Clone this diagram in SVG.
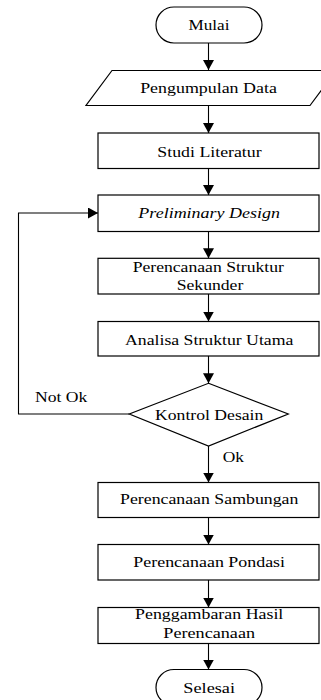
<svg xmlns="http://www.w3.org/2000/svg" width="321" height="700" viewBox="0 0 321 700">
<style>
.s{fill:#fff;stroke:#000;stroke-width:1.2}
.c{fill:none;stroke:#000;stroke-width:1.1}
text{font-family:'Liberation Serif','Times New Roman',serif;font-size:15px;fill:#000}
.m{text-anchor:middle}
</style>
<defs>
<marker id="ah" viewBox="0 0 10 11" markerWidth="10" markerHeight="11" refX="10" refY="5.5" orient="auto" markerUnits="userSpaceOnUse">
<path d="M0,0 L10,5.5 L0,11 z" fill="#000"/>
</marker>
</defs>
<rect width="321" height="700" fill="#fff"/>
<g id="connectors">
<line class="c" x1="208.5" y1="43" x2="208.5" y2="70" marker-end="url(#ah)"/>
<line class="c" x1="208.5" y1="105.5" x2="208.5" y2="133" marker-end="url(#ah)"/>
<line class="c" x1="208.5" y1="168.5" x2="208.5" y2="195" marker-end="url(#ah)"/>
<line class="c" x1="208.5" y1="231.5" x2="208.5" y2="258.3" marker-end="url(#ah)"/>
<line class="c" x1="208.5" y1="294" x2="208.5" y2="321.5" marker-end="url(#ah)"/>
<line class="c" x1="208.5" y1="356" x2="208.5" y2="383.3" marker-end="url(#ah)"/>
<line class="c" x1="208.5" y1="446" x2="208.5" y2="482.5" marker-end="url(#ah)"/>
<line class="c" x1="208.5" y1="517.5" x2="208.5" y2="544.5" marker-end="url(#ah)"/>
<line class="c" x1="208.5" y1="580" x2="208.5" y2="607.5" marker-end="url(#ah)"/>
<line class="c" x1="208.5" y1="643.5" x2="208.5" y2="669.5" marker-end="url(#ah)"/>
<polyline class="c" points="129.5,414 18.5,414 18.5,213 98,213" marker-end="url(#ah)"/>
<text x="35" y="402.3" textLength="52.3" lengthAdjust="spacingAndGlyphs">Not Ok</text>
<text x="222.7" y="462.3" textLength="21.3" lengthAdjust="spacingAndGlyphs">Ok</text>
</g>
<g id="mulai">
<rect class="s" x="156" y="7" width="106" height="36" rx="18"/>
<text class="m" x="209" y="30" textLength="41" lengthAdjust="spacingAndGlyphs">Mulai</text>
</g>
<g id="pengumpulan">
<polygon class="s" points="112,70.5 336,70.5 310,105.5 86,105.5"/>
<text class="m" x="208.5" y="93.3" textLength="136.7" lengthAdjust="spacingAndGlyphs">Pengumpulan Data</text>
</g>
<g id="studi">
<rect class="s" x="98" y="133" width="221" height="35.5"/>
<text class="m" x="209.5" y="156.7" textLength="104.3" lengthAdjust="spacingAndGlyphs">Studi Literatur</text>
</g>
<g id="preliminary">
<rect class="s" x="98" y="195" width="221" height="36.5"/>
<text class="m" x="209.2" y="217.7" font-style="italic" textLength="141.7" lengthAdjust="spacingAndGlyphs">Preliminary Design</text>
</g>
<g id="sekunder">
<rect class="s" x="98" y="258.3" width="221" height="35.7"/>
<text class="m" x="208.3" y="271.7" textLength="151.3" lengthAdjust="spacingAndGlyphs">Perencanaan Struktur</text>
<text class="m" x="210" y="290" textLength="66.7" lengthAdjust="spacingAndGlyphs">Sekunder</text>
</g>
<g id="analisa">
<rect class="s" x="98" y="321.5" width="221" height="34.5"/>
<text class="m" x="209.2" y="345" textLength="168.3" lengthAdjust="spacingAndGlyphs">Analisa Struktur Utama</text>
</g>
<g id="kontrol">
<polygon class="s" points="208.5,383.3 288.3,414 208.5,446 129.3,414"/>
<text class="m" x="209.2" y="420" textLength="108.3" lengthAdjust="spacingAndGlyphs">Kontrol Desain</text>
</g>
<g id="sambungan">
<rect class="s" x="98" y="482.5" width="221" height="35"/>
<text class="m" x="209.2" y="504.3" textLength="178.3" lengthAdjust="spacingAndGlyphs">Perencanaan Sambungan</text>
</g>
<g id="pondasi">
<rect class="s" x="98" y="544.5" width="221" height="35.5"/>
<text class="m" x="209.2" y="566.7" textLength="151.7" lengthAdjust="spacingAndGlyphs">Perencanaan Pondasi</text>
</g>
<g id="penggambaran">
<rect class="s" x="98" y="607.5" width="221" height="36"/>
<text class="m" x="209.2" y="619" textLength="148.3" lengthAdjust="spacingAndGlyphs">Penggambaran Hasil</text>
<text class="m" x="209.2" y="637.7" textLength="91.7" lengthAdjust="spacingAndGlyphs">Perencanaan</text>
</g>
<g id="selesai">
<rect class="s" x="156" y="669.5" width="106" height="36" rx="18"/>
<text class="m" x="209.2" y="693.3" textLength="51.7" lengthAdjust="spacingAndGlyphs">Selesai</text>
</g>
</svg>
